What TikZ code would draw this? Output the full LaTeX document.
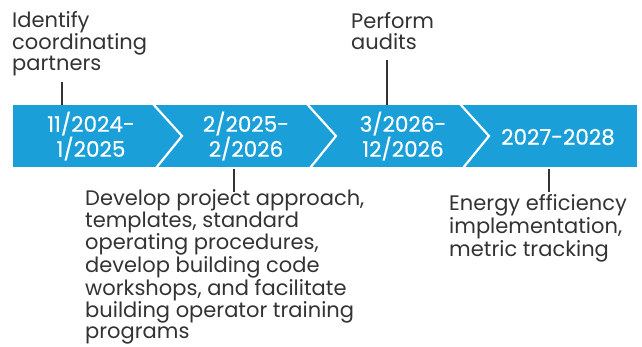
\documentclass[tikz,border=0pt]{standalone}
\usepackage{fontspec}
\setmainfont{Poppins}
\newfontfamily\phasefont{Poppins}[FakeBold=0.5]
\definecolor{barblue}{RGB}{27,159,217}
\definecolor{txtgray}{RGB}{51,51,51}
\begin{document}
\begin{tikzpicture}[x=1pt,y=-1pt,
  note/.style={inner sep=0pt, align=left, anchor=base west, text=txtgray,
    font=\fontsize{21}{21}\selectfont},
  longnote/.style={note, font=\fontsize{21}{20.5}\selectfont},
  phase/.style={inner sep=0pt, align=center, text=white,
    font=\phasefont\fontsize{21.5}{25}\selectfont},
  leader/.style={draw=txtgray, line width=1.2pt},
  sep/.style={draw=white, line width=2.2pt}]
\useasboundingbox (0,0) rectangle (642,346);
% bar
\fill[barblue] (13,105) rectangle (637,167);
\draw[sep] (153,104) -- (182,136) -- (156,168);
\draw[sep] (307,104) -- (336,136) -- (310,168);
\draw[sep] (460,104) -- (489,136) -- (463,168);
% phases
\node[phase] (p1) at (91,136) {11/2024-\\1/2025};
\node[phase] (p2) at (246,136) {2/2025-\\2/2026};
\node[phase] (p3) at (403,136) {3/2026-\\12/2026};
\node[phase] (p4) at (558,137) {2027-2028};
% notes (anchored at baseline of last line)
\node[note] (n1) at (12,70.5) {Identify\\coordinating\\partners};
\node[note] (n2) at (351,49.5) {Perform\\audits};
\node[longnote] (n3) at (85,338) {Develop project approach,\\templates, standard\\operating procedures,\\develop building code\\workshops, and facilitate\\building operator training\\programs};
\node[note] (n4) at (449,256) {Energy efficiency\\implementation,\\metric tracking};
% leaders
\coordinate (l1a) at (62,82);  \coordinate (l1b) at (62,105);
\coordinate (l2a) at (387,60); \coordinate (l2b) at (387,105);
\coordinate (l3a) at (234,169); \coordinate (l3b) at (234,192);
\coordinate (l4a) at (549,169); \coordinate (l4b) at (549,192);
\draw[leader] (l1a) -- (l1b);
\draw[leader] (l2a) -- (l2b);
\draw[leader] (l3a) -- (l3b);
\draw[leader] (l4a) -- (l4b);
\end{tikzpicture}
\end{document}
